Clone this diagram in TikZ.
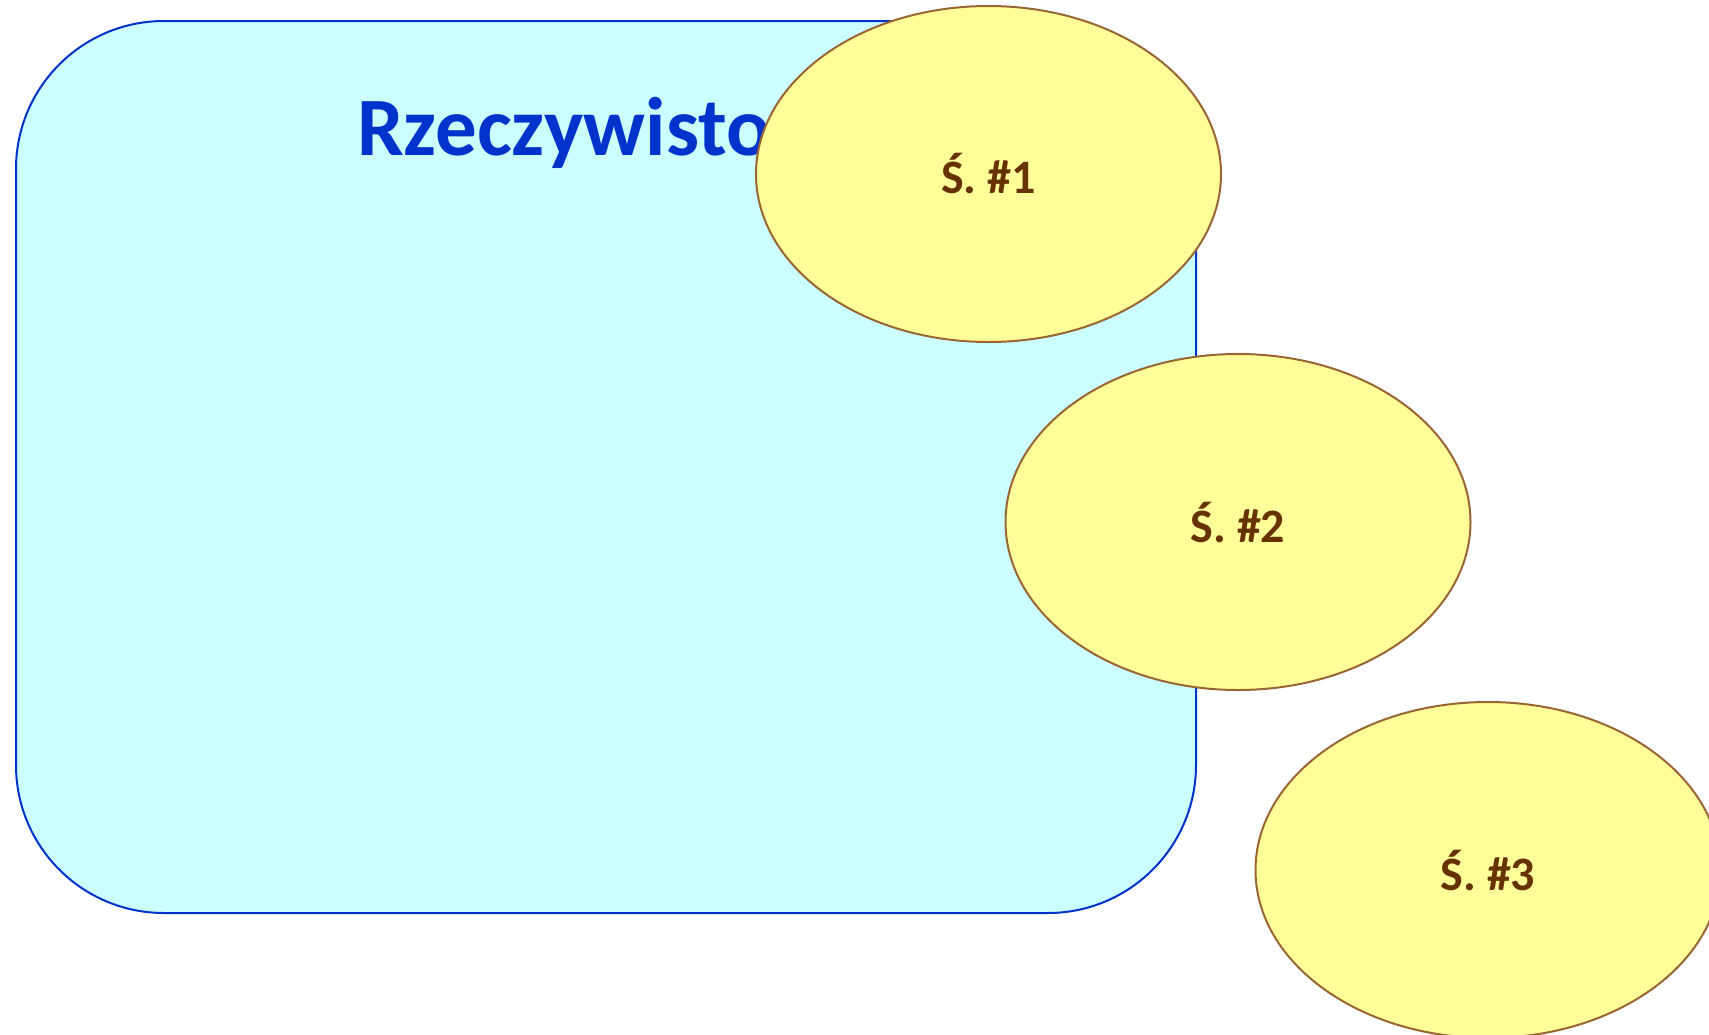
\documentclass[tikz,border=0pt]{standalone}
\usepackage{fontspec}
\setmainfont{Carlito}
\usetikzlibrary{shapes.geometric}
\definecolor{boxfill}{HTML}{CCFFFF}
\definecolor{boxline}{HTML}{0033CC}
\definecolor{ellfill}{HTML}{FFFF99}
\definecolor{ellline}{HTML}{996633}
\definecolor{elltext}{HTML}{663300}
\tikzset{
  realbox/.style={draw=boxline, fill=boxfill, line width=2pt, rounded corners=148pt},
  world/.style={ellipse, draw=ellline, fill=ellfill, line width=2pt, minimum width=465pt, minimum height=336pt, inner sep=0pt,
    font=\fontsize{48}{56}\selectfont\bfseries, text=elltext},
  titletext/.style={font=\fontsize{83}{98}\selectfont\bfseries, text=boxline, inner sep=0pt}
}
\begin{document}
\begin{tikzpicture}[x=1pt,y=-1pt]
\useasboundingbox (0,0) rectangle (1709,1034);
\clip (0,0) rectangle (1709,1034);
\draw[realbox] (16,21) rectangle (1196,913);
\node[titletext, anchor=base west] (title) at (357,155) {Rzeczywistość};
\node[world] (w1) at (988.5,174) {Ś. \#1};
\node[world] (w2) at (1238,522) {Ś. \#2};
\node[world] (w3) at (1488,870) {Ś. \#3};
\end{tikzpicture}
\end{document}
